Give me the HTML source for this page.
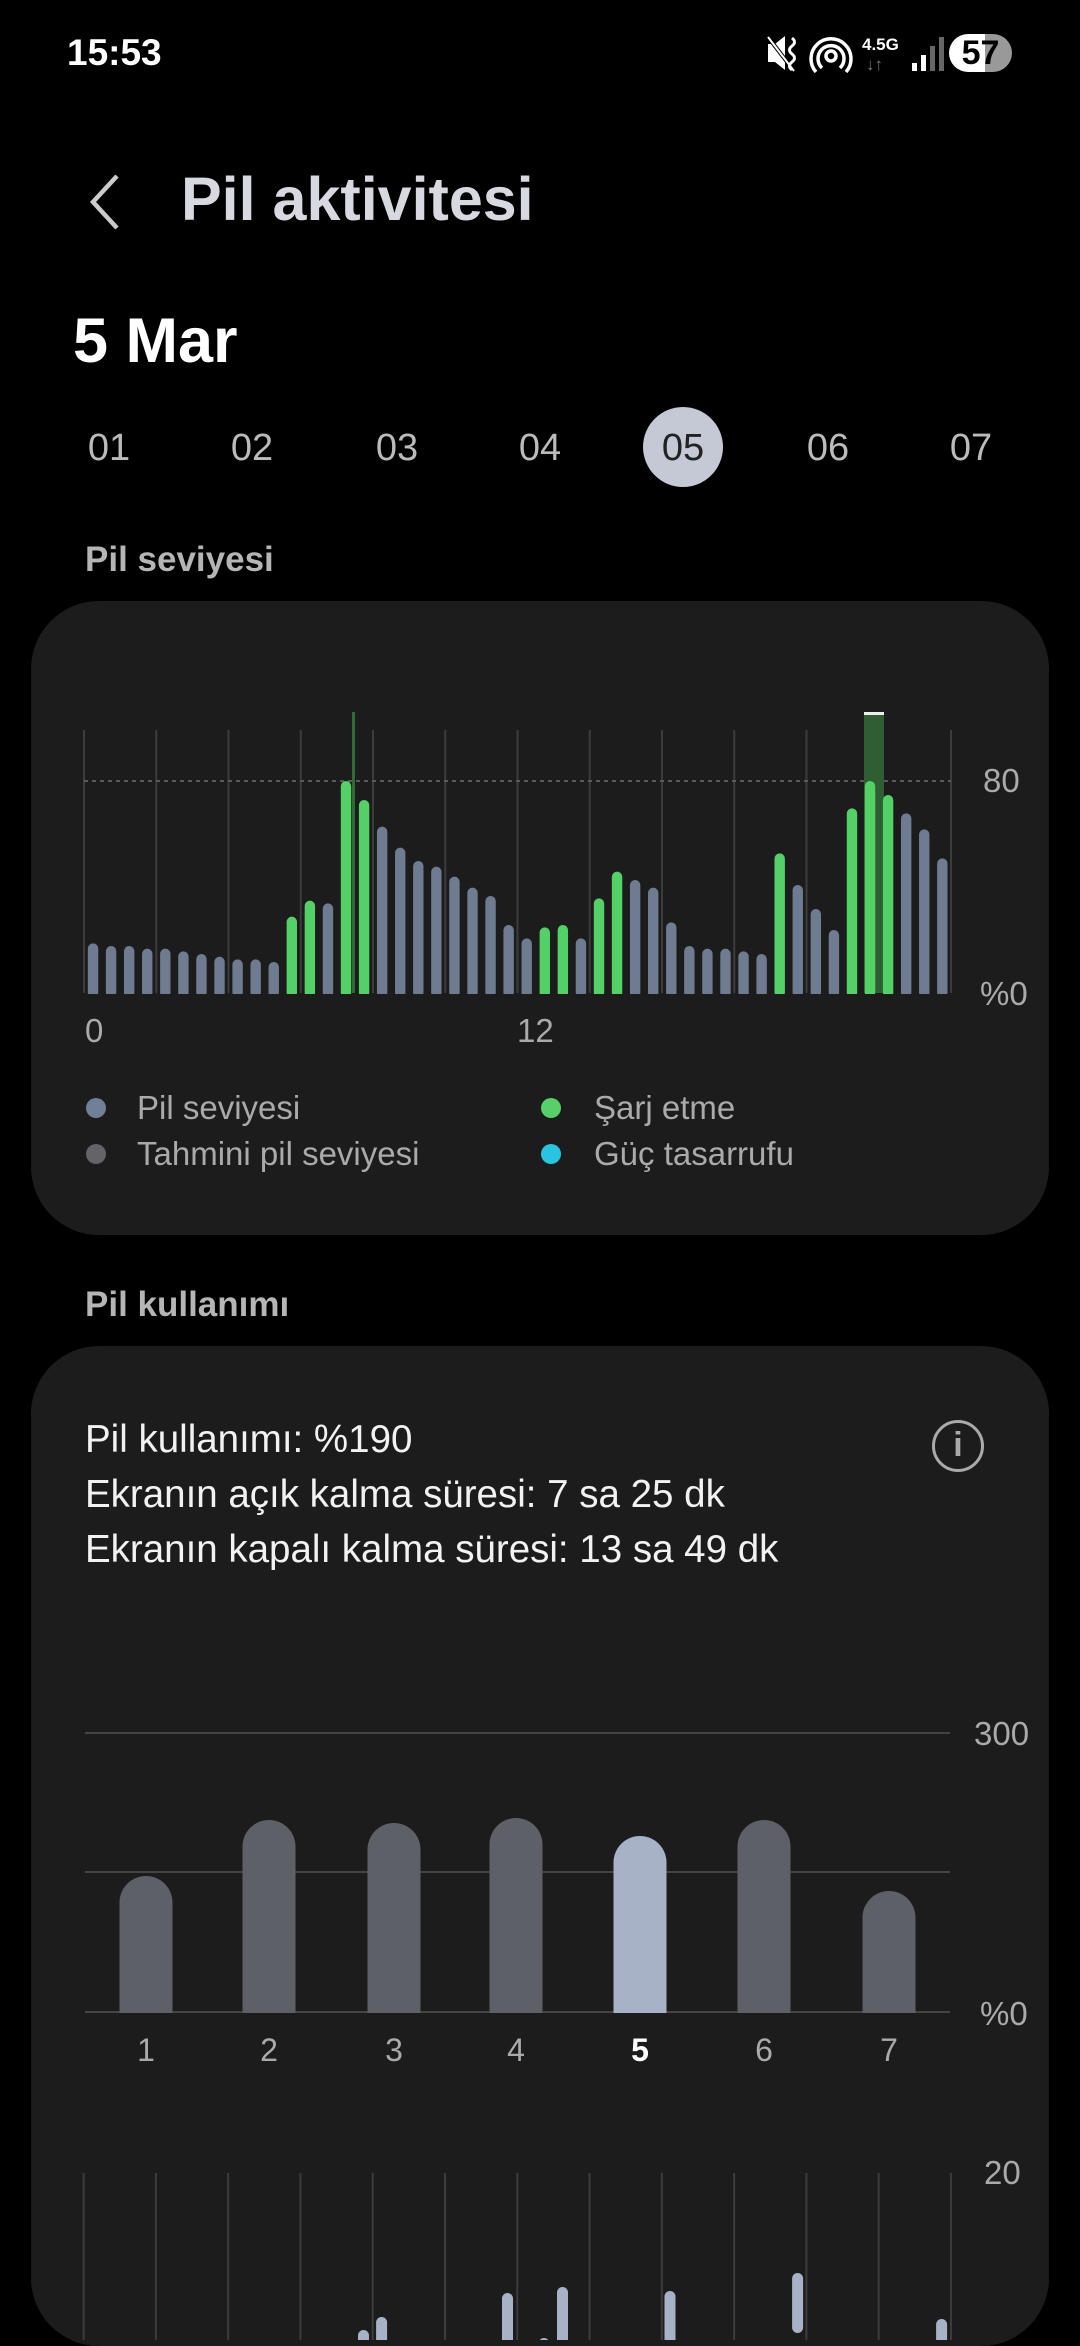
<!DOCTYPE html>
<html><head><meta charset="utf-8"><style>
body{margin:0;width:1080px;height:2340px;background:#000;overflow:hidden;position:relative;font-family:"Liberation Sans",sans-serif;color:#fff}
.a{position:absolute;white-space:nowrap}
.card{position:absolute;background:#1c1c1c;border-radius:68px}
</style></head><body>
<div class="a" style="left:67px;top:32px;font-size:37px;font-weight:bold">15:53</div>
<svg class="a" style="left:760px;top:32px" width="200" height="42">
<path d="M8 12h7l10-8v34l-10-8h-7z" fill="#fff"/><path d="M8 5l26 34" stroke="#000" stroke-width="4"/><path d="M8 5l26 34" stroke="#fff" stroke-width="2"/>
<path d="M32 6q5 4 0 8q-5 4 0 8q5 4 0 8q-5 4 0 8" stroke="#fff" stroke-width="3" fill="none"/>
<circle cx="71" cy="24" r="5" fill="none" stroke="#fff" stroke-width="3.5"/><path d="M62 36a13 13 0 1 1 18 0M56 40a20 20 0 1 1 30 0" fill="none" stroke="#fff" stroke-width="3.5"/>
<text x="102" y="18" font-size="17" font-weight="bold" fill="#fff" font-family="Liberation Sans">4.5G</text>
<text x="106" y="38" font-size="17" fill="#777" font-family="Liberation Sans">↓↑</text>
<rect x="152" y="31" width="5" height="8" fill="#fff"/><rect x="161" y="23" width="5" height="16" fill="#fff"/><rect x="170" y="14" width="5" height="25" fill="#666"/><rect x="179" y="5" width="5" height="34" fill="#666"/>
</svg>
<div class="a" style="left:949px;top:34px;width:63px;height:38px;border-radius:19px;background:linear-gradient(90deg,#fff 0 57%,#999 57%);color:#000;font-weight:bold;font-size:34px;line-height:38px;text-align:center">57</div>
<svg class="a" style="left:85px;top:172px" width="40" height="60"><path d="M32 4L8 30l24 26" stroke="#ccc" stroke-width="4.5" fill="none"/></svg>
<div class="a" style="left:181px;top:164px;font-size:61px;font-weight:bold;color:#d8d8e0">Pil aktivitesi</div>
<div class="a" style="left:73px;top:305px;font-size:63px;font-weight:bold">5 Mar</div>
<div class="a" style="left:643px;top:407px;width:80px;height:80px;border-radius:50%;background:#c5c9d5"></div>
<div id="dates"></div>
<div class="a" style="left:85px;top:540px;font-size:35px;font-weight:bold;color:#b5b5b5">Pil seviyesi</div>
<div class="card" style="left:31px;top:601px;width:1018px;height:634px"></div>
<svg class="a" style="left:0;top:0" width="1080" height="2340" id="s"></svg>
<div class="a" style="left:983px;top:762px;font-size:33px;color:#aaa">80</div>
<div class="a" style="left:980px;top:975px;font-size:33px;color:#aaa">%0</div>
<div class="a" style="left:85px;top:1012px;font-size:33px;color:#aaa">0</div>
<div class="a" style="left:517px;top:1012px;font-size:33px;color:#aaa">12</div>
<div class="a" style="left:86px;top:1098px;width:20px;height:20px;border-radius:50%;background:#727f98"></div>
<div class="a" style="left:86px;top:1144px;width:20px;height:20px;border-radius:50%;background:#626468"></div>
<div class="a" style="left:541px;top:1098px;width:20px;height:20px;border-radius:50%;background:#56d068"></div>
<div class="a" style="left:541px;top:1144px;width:20px;height:20px;border-radius:50%;background:#27c5e0"></div>
<div class="a" style="left:137px;top:1089px;font-size:33px;color:#aaa">Pil seviyesi</div>
<div class="a" style="left:137px;top:1135px;font-size:33px;color:#aaa">Tahmini pil seviyesi</div>
<div class="a" style="left:594px;top:1089px;font-size:33px;color:#aaa">Şarj etme</div>
<div class="a" style="left:594px;top:1135px;font-size:33px;color:#aaa">Güç tasarrufu</div>
<div class="a" style="left:85px;top:1285px;font-size:35px;font-weight:bold;color:#b5b5b5">Pil kullanımı</div>
<div class="card" style="left:31px;top:1346px;width:1018px;height:1000px"></div>
<div class="a" style="left:85px;top:1412px;font-size:38.5px;line-height:55px;color:#f2f2f2">Pil kullanımı: %190<br>Ekranın açık kalma süresi: 7 sa 25 dk<br>Ekranın kapalı kalma süresi: 13 sa 49 dk</div>
<div class="a" style="left:932px;top:1420px;width:52px;height:52px;border:3.5px solid #aaa;border-radius:50%;box-sizing:border-box;color:#aaa;font-size:34px;line-height:45px;text-align:center;font-weight:bold">i</div>
<div class="a" style="left:974px;top:1715px;font-size:33px;color:#aaa">300</div>
<div class="a" style="left:980px;top:1995px;font-size:33px;color:#aaa">%0</div>
<div class="a" style="left:984px;top:2154px;font-size:33px;color:#aaa">20</div>
<svg class="a" style="left:0;top:0" width="1080" height="2340" id="s2"></svg>
<script>
var d=document.getElementById('dates'),xs=[109,252,397,540,683,828,971];
xs.forEach(function(x,i){d.innerHTML+='<div class="a" style="left:'+(x-40)+'px;top:427px;width:80px;text-align:center;font-size:38px;color:'+(i==4?'#222':'#bbb')+'">0'+(i+1)+'</div>'});
var s='';
for(var i=0;i<=12;i++){var x=84+i*72.25;s+='<line x1="'+x+'" y1="730" x2="'+x+'" y2="993" stroke="#3c3c3c" stroke-width="2"/>'}
s+='<line x1="84" y1="781" x2="951" y2="781" stroke="#5a5a5a" stroke-width="2" stroke-dasharray="4,4"/>';
s+='<rect x="352" y="712" width="3" height="281" fill="#2f6a37"/>';
s+='<rect x="864" y="712" width="20" height="281" fill="#2f5e33"/><rect x="864" y="712" width="20" height="3" fill="#eee"/>';
var t=[790,798,798,806,806,814,822,830,838,838,846,710,662,670,303,360,440,503,543,560,590,623,648,735,775,742,735,775,655,575,600,623,727,798,806,806,814,822,520,615,687,750,385,303,345,400,448,535];
var g=[11,12,14,15,25,26,28,29,38,42,43,44];
t.forEach(function(v,i){var cx=84+18.07*(i+0.5),y=680+v/3;var c=g.indexOf(i)>=0?'#53d166':'#6f7b91';
s+='<rect x="'+(cx-5.2)+'" y="'+y+'" width="10.4" height="'+(993-y+5)+'" rx="5.2" fill="'+c+'"/>'});
s+='<rect x="60" y="994" width="900" height="10" fill="#1c1c1c"/>';
document.getElementById('s').innerHTML=s;
var u='';
[1733,1872,2012].forEach(function(y){u+='<line x1="85" y1="'+y+'" x2="950" y2="'+y+'" stroke="#444" stroke-width="2"/>'});
var bx=[146,269,394,516,640,764,889],bt=[1876,1820,1823,1818,1836,1820,1891];
bx.forEach(function(x,i){u+='<rect x="'+(x-26.5)+'" y="'+bt[i]+'" width="53" height="'+(2012-bt[i]+30)+'" rx="26.5" fill="'+(i==4?'#a8b2c7':'#5d6067')+'"/>';});
u+='<rect x="60" y="2013" width="900" height="40" fill="#1c1c1c"/>';
bx.forEach(function(x,i){u+='<text x="'+x+'" y="2061" text-anchor="middle" font-family="Liberation Sans" font-size="32" fill="'+(i==4?'#fff':'#aaa')+'"'+(i==4?' font-weight="bold"':'')+'>'+(i+1)+'</text>'});
for(var i=0;i<=12;i++){var x=83.6+i*72.28;u+='<line x1="'+x+'" y1="2173" x2="'+x+'" y2="2345" stroke="#3c3c3c" stroke-width="2"/>'}
[[363.5,2330],[381.6,2317],[507.5,2293],[544,2338],[562.5,2287],[670,2291],[797.6,2273],[941.6,2319]].forEach(function(b){u+='<rect x="'+(b[0]-5.5)+'" y="'+b[1]+'" width="11" height="60" rx="5.5" fill="#a8b2c7"/>'});
document.getElementById('s2').innerHTML=u;
</script>
</body></html>
